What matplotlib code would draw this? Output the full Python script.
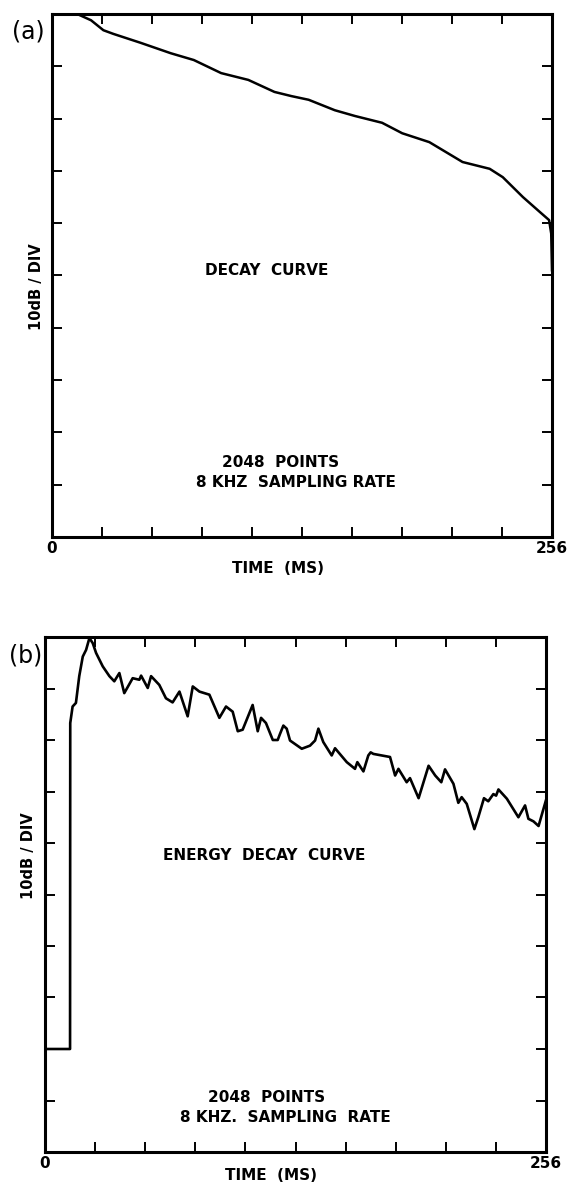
import matplotlib
matplotlib.use("Agg")
import matplotlib.pyplot as plt
import numpy as np

# ---- data (ms, dB) ----
a_time = [0, 12.9, 20.0, 26.3, 31.4, 45.3, 60.8, 72.6, 86.6, 100.5, 113.9, 122.6,
          131.4, 144.8, 155.1, 169.0, 179.3, 193.2, 210.2, 224.1, 230.8, 241.1,
          249.9, 254.5, 255.6, 256.0]
a_db = [0, 0, -1.2, -3.1, -3.8, -5.5, -7.5, -8.8, -11.3, -12.6, -14.9, -15.7,
        -16.4, -18.4, -19.5, -20.8, -22.8, -24.5, -28.3, -29.6, -31.2, -35.0,
        -37.9, -39.4, -42.0, -49.0]

b_time = [0, 12.8, 12.9, 14.1, 15.8, 17.5, 19.3, 21.0, 22.7, 24.4, 26.1, 29.5,
          32.9, 35.4, 38.0, 40.5, 44.8, 48.2, 49.1, 52.5, 54.2, 58.4, 61.8, 65.2,
          68.7, 72.9, 75.5, 78.9, 84.0, 89.1, 92.5, 95.9, 98.5, 101.0, 106.1,
          108.7, 110.4, 112.9, 116.4, 118.9, 120.1, 121.8, 123.5, 125.2, 131.2,
          135.4, 138.0, 139.7, 142.2, 146.5, 148.2, 154.2, 158.4, 159.6, 162.7,
          165.2, 166.4, 167.8, 176.3, 178.9, 180.6, 184.8, 186.5, 190.9, 196.0,
          199.4, 202.5, 204.4, 208.7, 211.2, 212.9, 215.5, 219.4, 221.4, 224.3,
          226.5, 229.1, 230.5, 231.7, 236.0, 241.9, 245.3, 247.0, 249.6, 252.2,
          255.9]
b_db = [-80, -80, -16.7, -13.5, -12.8, -7.6, -3.8, -2.5, -0.2, -1.2, -3.1, -5.7,
        -7.6, -8.6, -7.0, -10.9, -8.0, -8.3, -7.5, -9.9, -7.6, -9.3, -11.9, -12.7,
        -10.6, -15.4, -9.6, -10.6, -11.2, -15.7, -13.5, -14.5, -18.3, -18.0, -13.2,
        -18.3, -15.7, -16.7, -20.0, -20.0, -18.8, -17.2, -17.8, -20.1, -21.7,
        -21.1, -20.1, -17.8, -20.4, -23.0, -21.6, -24.3, -25.6, -24.3, -26.1,
        -23.0, -22.4, -22.7, -23.3, -26.9, -25.6, -28.2, -27.4, -31.3, -25.0,
        -26.9, -28.2, -25.7, -28.5, -32.2, -31.1, -32.4, -37.3, -35.0, -31.3,
        -31.9, -30.5, -30.8, -29.6, -31.4, -35.0, -32.7, -35.3, -35.8, -36.7,
        -31.8]

x_ticklabels = ["0", "256"]

FONT = "DejaVu Sans"
plt.rcParams["font.family"] = [FONT]

fig = plt.figure(figsize=(5.69, 11.86), dpi=100)
axa = fig.add_axes([52/569, 1-537/1186, 500/569, 523/1186])
axb = fig.add_axes([45/569, 1-1152/1186, 501/569, 515/1186])


def style(ax, xlab_y, ylab_y):
    ax.set_xlim(0, 256)
    ax.set_ylim(-100, 0)
    ax.set_xticks(np.linspace(0, 256, 11))
    ax.set_yticks(np.linspace(-100, 0, 11))
    labels = [""] * 11
    labels[0], labels[-1] = x_ticklabels
    ax.set_xticklabels(labels, fontsize=11, fontweight="bold")
    ax.set_yticklabels([])
    ax.tick_params(direction="in", length=7.5, width=1.4, top=True, right=True,
                   pad=3)
    ax.tick_params(axis="y", left=True, right=True)
    for s in ax.spines.values():
        s.set_linewidth(2.2)
    ax.set_xlabel("TIME  (MS)", fontsize=11, fontweight="bold", va="center")
    ax.xaxis.set_label_coords(0.452, xlab_y)
    ax.set_ylabel("10dB / DIV", fontsize=10.5, fontweight="bold", va="center")
    ax.yaxis.set_label_coords(-0.032, ylab_y)


style(axa, -(569 - 537) / 523, (537 - 287) / 523)
style(axb, -(1176 - 1152) / 515, (1152 - 856) / 515)

axa.plot(a_time, a_db, color="black", lw=1.8, clip_on=True)
axb.plot(b_time, b_db, color="black", lw=1.9, clip_on=True)

axa.text(110, -49, "DECAY  CURVE", ha="center", va="center", fontsize=11,
         fontweight="bold")
axa.text(117, -85.8, "2048  POINTS", ha="center", va="center", fontsize=11,
         fontweight="bold")
axa.text(125, -89.5, "8 KHZ  SAMPLING RATE", ha="center", va="center",
         fontsize=11, fontweight="bold")

axb.text(112, -42.5, "ENERGY  DECAY  CURVE", ha="center", va="center",
         fontsize=11, fontweight="bold")
axb.text(113, -89.4, "2048  POINTS", ha="center", va="center", fontsize=11,
         fontweight="bold")
axb.text(123, -93.3, "8 KHZ.  SAMPLING  RATE", ha="center", va="center",
         fontsize=11, fontweight="bold")

fig.text(28/569, 1-31/1186, "(a)", ha="center", va="center", fontsize=17)
fig.text(26/569, 1-656/1186, "(b)", ha="center", va="center", fontsize=17)

fig.savefig("out.png", dpi=100, facecolor="white")
